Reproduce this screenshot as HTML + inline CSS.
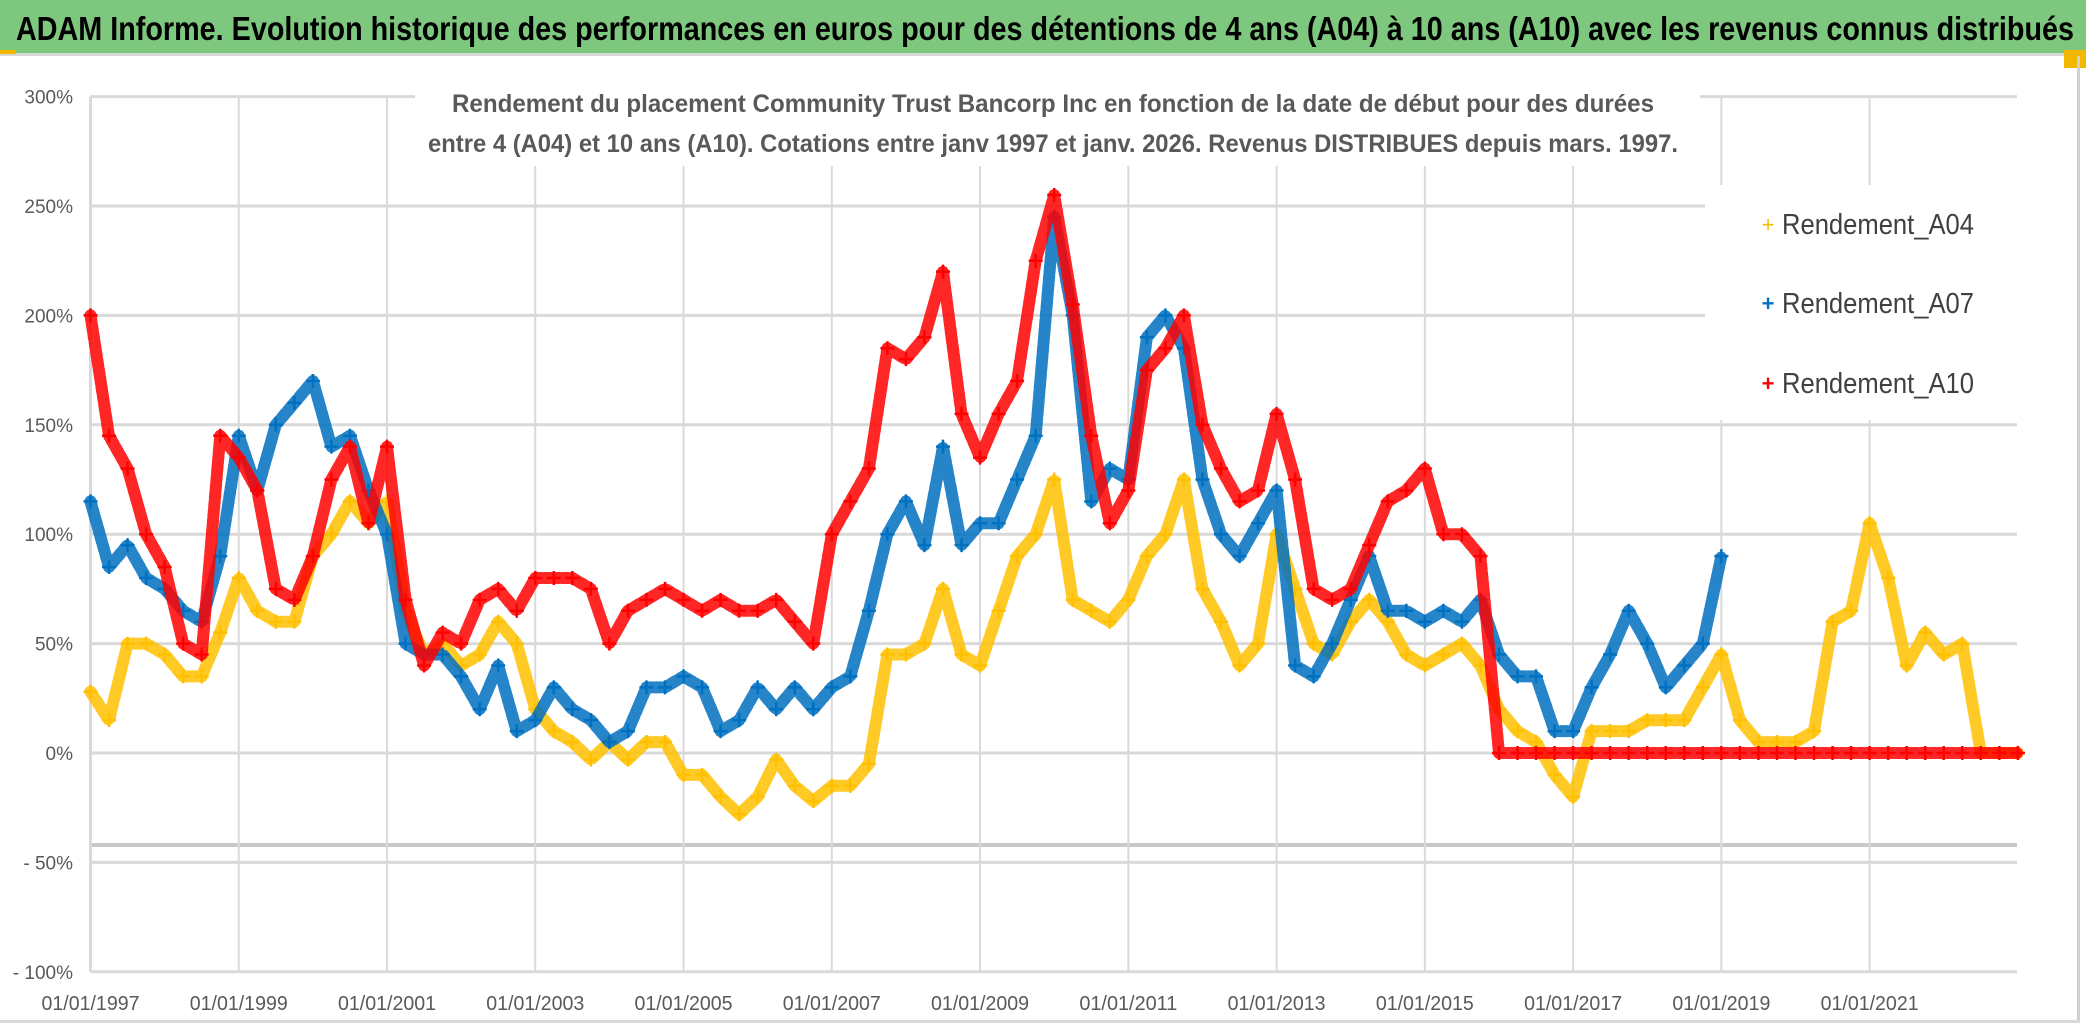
<!DOCTYPE html>
<html><head><meta charset="utf-8"><style>
html,body{margin:0;padding:0;background:#fff;}
svg{display:block;font-family:"Liberation Sans",sans-serif;}
</style></head><body>
<svg id="chart" width="2086" height="1032" viewBox="0 0 2086 1032" xmlns="http://www.w3.org/2000/svg">
<rect x="0" y="0" width="2086" height="1032" fill="#ffffff"/>
<rect x="0" y="0" width="2086" height="53" fill="#7ec77e"/>
<rect x="0" y="53" width="2086" height="3" fill="#d9d9d9"/>
<rect x="0" y="50" width="16" height="4" fill="#f2b800"/>
<rect x="2064" y="50" width="22" height="18" fill="#f2b800"/>
<text x="16" y="40" font-size="33" font-weight="bold" fill="#000" textLength="2058" lengthAdjust="spacingAndGlyphs">ADAM Informe. Evolution historique des performances en euros pour des détentions de 4 ans (A04) à 10 ans (A10) avec les revenus connus distribués</text>
<rect x="2077" y="56" width="3" height="966" fill="#d0d0d0"/>
<rect x="0" y="1020" width="2080" height="3" fill="#d9d9d9"/>
<g id="grid"></g>
<g id="series"></g>
<g id="axes"></g>
<rect x="415" y="80" width="1285" height="86" fill="#fff"/>
<text x="1053" y="112" font-size="25" font-weight="bold" fill="#595959" text-anchor="middle" textLength="1202" lengthAdjust="spacingAndGlyphs">Rendement du placement Community Trust Bancorp Inc en fonction de la date de début pour des durées</text>
<text x="1053" y="152" font-size="25" font-weight="bold" fill="#595959" text-anchor="middle" textLength="1250" lengthAdjust="spacingAndGlyphs">entre 4 (A04) et 10 ans (A10). Cotations entre janv 1997 et janv. 2026. Revenus DISTRIBUES depuis mars. 1997.</text>
<g>
<rect x="1705" y="185" width="315" height="235" fill="#fff"/>
<g><text x="1768" y="232" font-size="22" fill="#f5c000" text-anchor="middle">+</text><text x="1782" y="234" font-size="29" fill="#404040" textLength="192" lengthAdjust="spacingAndGlyphs">Rendement_A04</text></g>
<g><text x="1768" y="311" font-size="22" fill="#0070c0" text-anchor="middle" font-weight="bold">+</text><text x="1782" y="313" font-size="29" fill="#404040" textLength="192" lengthAdjust="spacingAndGlyphs">Rendement_A07</text></g>
<g><text x="1768" y="391" font-size="22" fill="#ff0000" text-anchor="middle" font-weight="bold">+</text><text x="1782" y="393" font-size="29" fill="#404040" textLength="192" lengthAdjust="spacingAndGlyphs">Rendement_A10</text></g>
</g>
</svg>
<script>
const yTicks = [300, 250, 200, 150, 100, 50, 0, -50, -100];
const yTickLabels = ["300%", "250%", "200%", "150%", "100%", "50%", "0%", "- 50%", "- 100%"];
const xTickYears = [1997, 1999, 2001, 2003, 2005, 2007, 2009, 2011, 2013, 2015, 2017, 2019, 2021];
const xTickLabels = ["01/01/1997","01/01/1999","01/01/2001","01/01/2003","01/01/2005","01/01/2007","01/01/2009","01/01/2011","01/01/2013","01/01/2015","01/01/2017","01/01/2019","01/01/2021"];
const startA04 = 1997, startA07 = 1997, startA10 = 1997, stepYears = 0.25;
const a04 = [28,15,50,50,45,35,35,55,80,65,60,60,90,100,115,105,115,65,45,50,40,45,60,50,20,10,5,-3,5,-3,5,5,-10,-10,-20,-28,-20,-3,-15,-22,-15,-15,-5,45,45,50,75,45,40,65,90,100,125,70,65,60,70,90,100,125,75,60,40,50,100,75,50,45,60,70,60,45,40,45,50,40,20,10,5,-10,-20,10,10,10,15,15,15,30,45,15,5,5,5,10,60,65,105,80,40,55,45,50,0,0,0];
const a07 = [115,85,95,80,75,65,60,90,145,120,150,160,170,140,145,120,100,50,45,45,35,20,40,10,15,30,20,15,5,10,30,30,35,30,10,15,30,20,30,20,30,35,65,100,115,95,140,95,105,105,125,145,245,200,115,130,125,190,200,185,125,100,90,105,120,40,35,50,70,90,65,65,60,65,60,70,45,35,35,10,10,30,45,65,50,30,40,50,90];
const a10 = [200,145,130,100,85,50,45,145,135,120,75,70,90,125,140,105,140,70,40,55,50,70,75,65,80,80,80,75,50,65,70,75,70,65,70,65,65,70,60,50,100,115,130,185,180,190,220,155,135,155,170,225,255,205,145,105,120,175,185,200,150,130,115,120,155,125,75,70,75,95,115,120,130,100,100,90,0,0,0,0,0,0,0,0,0,0,0,0,0,0,0,0,0,0,0,0,0,0,0,0,0,0,0,0,0];

const NS = "http://www.w3.org/2000/svg";
const X0 = 90.5, PXY = 74.13, Y0 = 753, PXV = 2.188;
function xScale(yr){ return X0 + (yr - 1997) * PXY; }
function yScale(v){ return Y0 - v * PXV; }
function mk(tag, attrs, parent){ const e = document.createElementNS(NS, tag); for (const k in attrs) e.setAttribute(k, attrs[k]); parent.appendChild(e); return e; }

const grid = document.getElementById('grid');
const axes = document.getElementById('axes');
yTicks.forEach((t, i) => {
  const l = mk('line', {x1: X0, x2: 2017, y1: yScale(t), y2: yScale(t), stroke: '#d9d9d9', 'stroke-width': 3}, grid);
  
  
  const tx = mk('text', {x: 73, y: yScale(t) + 7, 'font-size': 19, fill: '#595959', 'text-anchor': 'end'}, axes);
  tx.textContent = yTickLabels[i];
  
  
});
const ref = mk('line', {x1: X0, x2: 2017, y1: 845, y2: 845, stroke: '#c8c8c8', 'stroke-width': 4}, grid);


xTickYears.forEach((yr, i) => {
  const l = mk('line', {x1: xScale(yr), x2: xScale(yr), y1: yScale(300), y2: yScale(-100), stroke: '#d9d9d9', 'stroke-width': 2}, grid);
  
  
  const tx = mk('text', {x: xScale(yr), y: 1010, 'font-size': 20, fill: '#595959', 'text-anchor': 'middle', textLength: 98, lengthAdjust: 'spacingAndGlyphs'}, axes);
  tx.textContent = xTickLabels[i];
  
  
});
const yAxis = mk('line', {x1: X0, x2: X0, y1: yScale(300), y2: yScale(-100), stroke: '#d9d9d9', 'stroke-width': 3}, grid);



const seriesG = document.getElementById('series');
function drawSeries(vals, start, color, name, w){
  const pts = vals.map((v, i) => xScale(start + i * stepYears).toFixed(1) + ',' + yScale(v).toFixed(1)).join(' ');
  const pl = mk('polyline', {points: pts, fill: 'none', stroke: color, 'stroke-width': w, 'stroke-linejoin': 'round', 'stroke-linecap': 'round', 'stroke-dasharray': '6 3', opacity: 0.85}, seriesG);
  
  
  vals.forEach((v, i) => {
    const x = xScale(start + i * stepYears), y = yScale(v);
    const p = mk('path', {d: `M${x-7},${y}h14M${x},${y-7}v14`, stroke: color, 'stroke-width': 2.5}, seriesG);
    
    
  });
}
drawSeries(a04, startA04, '#ffc000', 'a04', 12);
drawSeries(a07, startA07, '#0070c0', 'a07', 12);
drawSeries(a10, startA10, '#ff0000', 'a10', 12);
</script>
</body></html>
